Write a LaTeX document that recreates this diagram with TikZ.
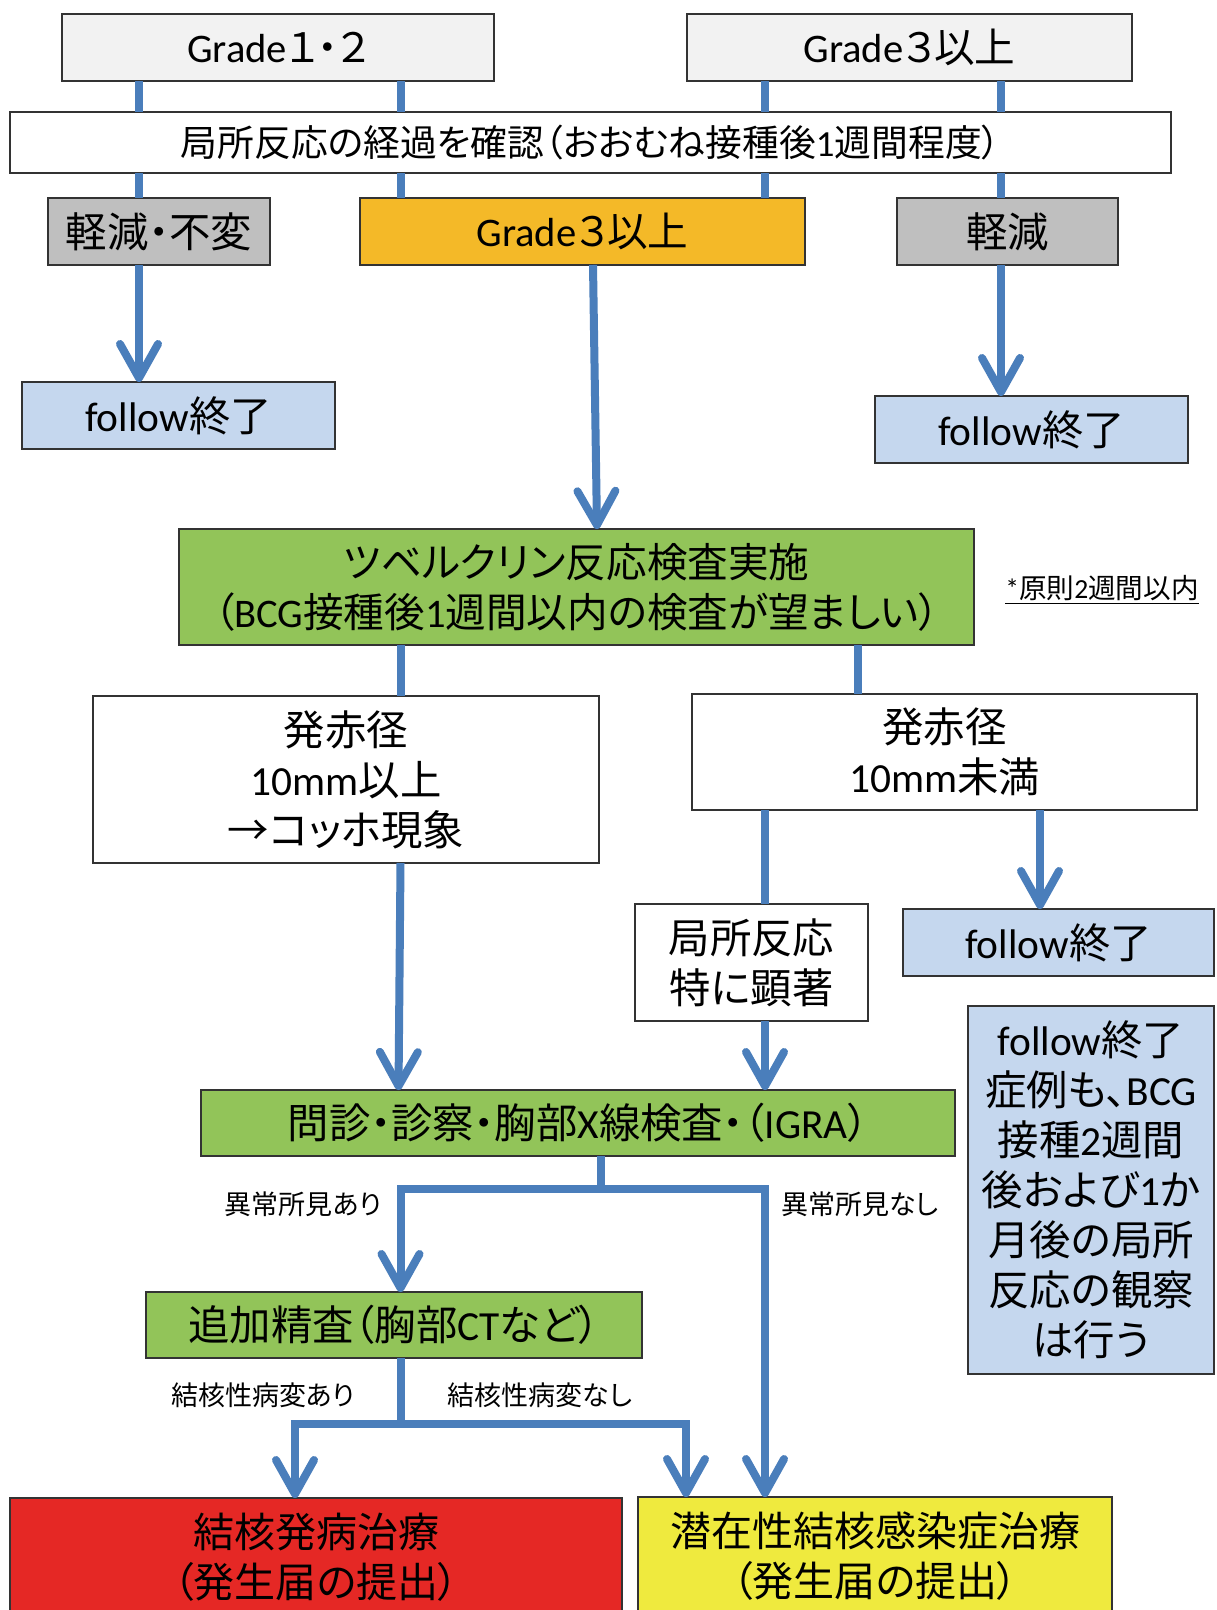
\documentclass[tikz,border=0pt]{standalone}
\usepackage{fontspec}
\setmainfont{Noto Sans CJK JP}[RawFeature=+palt]
\newfontfamily\lat{Carlito}
\usetikzlibrary{arrows.meta}
\definecolor{cblue}{HTML}{4A7EBB}
\definecolor{lgray}{HTML}{F2F2F2}
\definecolor{mgray}{HTML}{BFBFBF}
\definecolor{corange}{HTML}{F4B928}
\definecolor{lblue}{HTML}{C5D7EE}
\definecolor{cgreen}{HTML}{92C459}
\definecolor{cred}{HTML}{E52825}
\definecolor{cyellow}{HTML}{EFEA3E}
\newcommand\fs[1]{\fontsize{#1pt}{25pt}\selectfont}
\newcommand\mybox[7]{\node[bx,#6,minimum width={(#4-#2)*0.5pt},minimum height={(#5-#3)*0.5pt}] (#1) at ({(#2+#4)/2},{(#3+#5)/2}) {#7};}
\tikzset{
  bx/.style={draw=black!80, line width=0.8pt, inner sep=0pt, outer sep=0pt, align=center, font=\fs{20.7}},
  conn/.style={draw=cblue, line width=4pt},
  arr/.style={conn, -{Straight Barb[length=17pt, width=19pt, line cap=round, line join=round]}},
  lbl/.style={inner sep=0pt, font=\fs{13.5}},
}
\begin{document}
\begin{tikzpicture}[x=0.5pt,y=-0.5pt]
\useasboundingbox (0,0) rectangle (1216,1610);
\fill[white] (0,0) rectangle (1216,1610);
% boxes
\mybox{g12}{62}{14}{494}{81}{fill=lgray,font=\fs{20.3}}{{\lat Grade}１・２}
\mybox{g3a}{687}{14}{1132}{81}{fill=lgray,font=\fs{20.3}}{{\lat Grade}３以上}
\mybox{wide}{10}{112}{1171}{173}{fill=white,font=\fs{18.4}}{局所反応の経過を確認（おおむね接種後{\lat 1}週間程度）}
\mybox{kg1}{48}{198}{270}{265}{fill=mgray}{軽減・不変}
\mybox{g3b}{360}{198}{805}{265}{fill=corange,font=\fs{20.3}}{{\lat Grade}３以上}
\mybox{kg2}{897}{198}{1118}{265}{fill=mgray}{軽減}
\mybox{f1}{22}{382}{335}{449}{fill=lblue}{{\lat follow}終了}
\mybox{f2}{875}{396}{1188}{463}{fill=lblue}{{\lat follow}終了}
\mybox{tub}{179}{529}{974}{645}{fill=cgreen,font=\fs{20.3}}{ツベルクリン反応検査実施\\（{\lat BCG}接種後{\lat 1}週間以内の検査が望ましい）}
\node[lbl,font=\fs{13.8}] (note1) at (1102,590) {\underline{{\lat *}原則{\lat 2}週間以内}};
\mybox{hL}{93}{696}{599}{863}{fill=white}{発赤径\\{\lat 10mm}以上\\→コッホ現象}
\mybox{hR}{692}{694}{1197}{810}{fill=white}{発赤径\\{\lat 10mm}未満}
\mybox{kyo}{635}{904}{868}{1021}{fill=white}{局所反応\\特に顕著}
\mybox{f3}{903}{909}{1214}{976}{fill=lblue}{{\lat follow}終了}
\mybox{note2}{968}{1006}{1214}{1374}{fill=lblue}{{\lat follow}終了\\症例も、{\lat BCG}\\接種{\lat 2}週間\\後および{\lat 1}か\\月後の局所\\反応の観察\\は行う}
\mybox{mon}{201}{1090}{955}{1156}{fill=cgreen}{問診・診察・胸部{\lat X}線検査・（{\lat IGRA}）}
\mybox{tsuika}{146}{1292}{642}{1358}{fill=cgreen}{追加精査（胸部{\lat CT}など）}
\mybox{kekka}{10}{1498}{622}{1616}{fill=cred,font=\fs{20.5}}{結核発病治療\\（発生届の提出）}
\mybox{sen}{638}{1497}{1112}{1616}{fill=cyellow,font=\fs{20.5}}{潜在性結核感染症治療\\（発生届の提出）}
% labels
\node[lbl] (l1) at (303,1204) {異常所見あり};
\node[lbl] (l2) at (860,1204) {異常所見なし};
\node[lbl] (l3) at (263,1395) {結核性病変あり};
\node[lbl] (l4) at (540,1395) {結核性病変なし};
% guide coordinates
\coordinate (xa) at (139,0);
\coordinate (xb) at (400.5,0);
\coordinate (xc) at (765,0);
\coordinate (xd) at (1001,0);
\coordinate (xe) at (593,0);
\coordinate (xf) at (597,0);
\coordinate (xg) at (857.5,0);
\coordinate (xh) at (1040,0);
\coordinate (xi) at (398.5,0);
\coordinate (xk) at (295,0);
\coordinate (xl) at (686,0);
\coordinate (j1) at (601,1189);
\coordinate (j2) at (400.5,1424);
% connectors
\draw[conn] (g12.south -| xa) -- (wide.north -| xa);
\draw[conn] (g12.south -| xb) -- (wide.north -| xb);
\draw[conn] (g3a.south -| xc) -- (wide.north -| xc);
\draw[conn] (g3a.south -| xd) -- (wide.north -| xd);
\draw[conn] (wide.south -| xa) -- (kg1.north -| xa);
\draw[conn] (wide.south -| xb) -- (g3b.north -| xb);
\draw[conn] (wide.south -| xc) -- (g3b.north -| xc);
\draw[conn] (wide.south -| xd) -- (kg2.north -| xd);
\draw[arr] (kg1.south -| xa) -- (f1.north -| xa);
\draw[arr] (kg2.south -| xd) -- (f2.north -| xd);
\draw[arr] (g3b.south -| xe) -- (tub.north -| xf);
\draw[conn] (tub.south -| xb) -- (hL.north -| xb);
\draw[conn] (tub.south -| xg) -- (hR.north -| xg);
\draw[conn] (hR.south -| xc) -- (kyo.north -| xc);
\draw[arr] (hR.south -| xh) -- (f3.north -| xh);
\draw[arr] (hL.south -| xb) -- (mon.north -| xi);
\draw[arr] (kyo.south -| xc) -- (mon.north -| xc);
\draw[conn] (mon.south -| j1) -- (j1);
\draw[arr] (j1) -| (tsuika.north -| xb);
\draw[arr] (j1) -| (sen.north -| xc);
\draw[conn] (tsuika.south -| j2) -- (j2);
\draw[arr] (j2) -| (kekka.north -| xk);
\draw[arr] (j2) -| (sen.north -| xl);
\end{tikzpicture}
\end{document}
